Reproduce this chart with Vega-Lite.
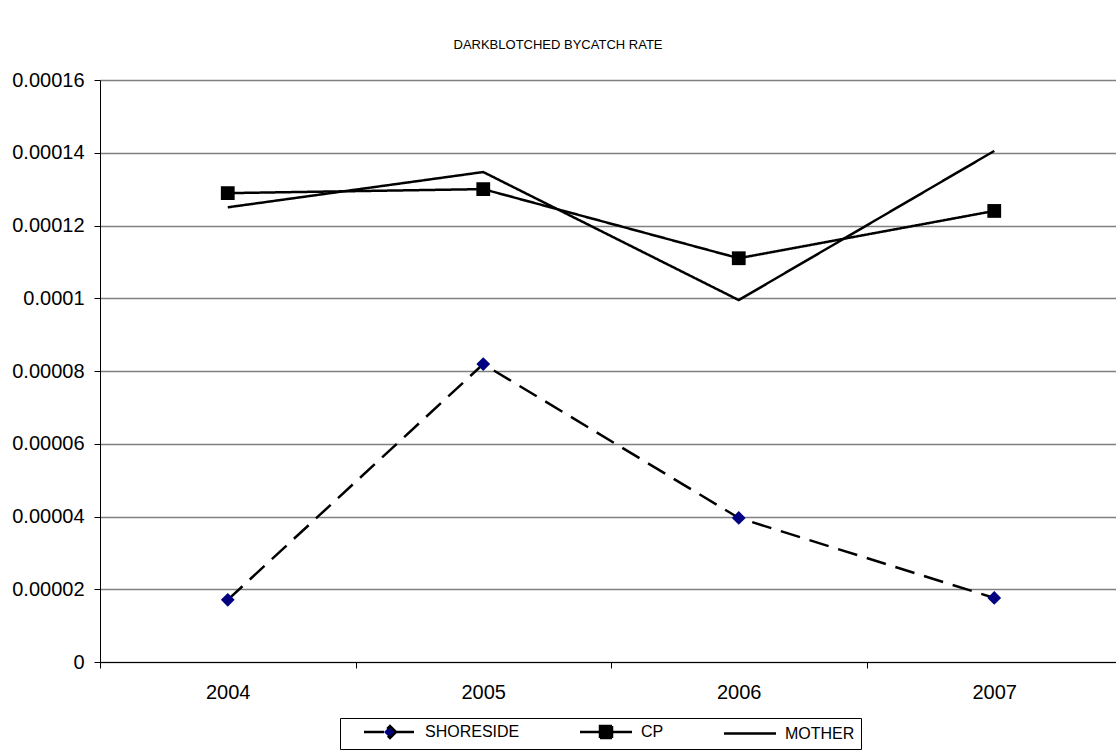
{
  "$schema": "https://vega.github.io/schema/vega-lite/v6.json",
  "autosize": "none",
  "width": 1022,
  "height": 582,
  "padding": {"left": 100, "top": 80, "right": 0, "bottom": 89},
  "background": "white",
  "config": {
    "view": {"stroke": null},
    "font": "Liberation Sans"
  },
  "title": {
    "text": "DARKBLOTCHED BYCATCH RATE",
    "fontSize": 13,
    "fontWeight": "normal",
    "font": "Liberation Sans",
    "color": "black",
    "anchor": "middle",
    "dx": -53,
    "offset": 18
  },
  "data": {
    "values": [
      {"year": "2004", "series": "SHORESIDE", "rate": 0.0000171},
      {"year": "2005", "series": "SHORESIDE", "rate": 0.0000819},
      {"year": "2006", "series": "SHORESIDE", "rate": 0.0000396},
      {"year": "2007", "series": "SHORESIDE", "rate": 0.0000176},
      {"year": "2004", "series": "CP", "rate": 0.0001289},
      {"year": "2005", "series": "CP", "rate": 0.00013},
      {"year": "2006", "series": "CP", "rate": 0.000111},
      {"year": "2007", "series": "CP", "rate": 0.000124},
      {"year": "2004", "series": "MOTHER", "rate": 0.000125},
      {"year": "2005", "series": "MOTHER", "rate": 0.0001347},
      {"year": "2006", "series": "MOTHER", "rate": 0.0000995},
      {"year": "2007", "series": "MOTHER", "rate": 0.0001405}
    ]
  },
  "encoding": {
    "x": {
      "field": "year",
      "type": "ordinal",
      "scale": {"type": "band", "paddingInner": 0, "paddingOuter": 0},
      "axis": {
        "title": null,
        "labelAngle": 0,
        "tickBand": "extent",
        "domainColor": "black",
        "tickColor": "black",
        "tickSize": 6,
        "labelFontSize": 20,
        "labelColor": "black",
        "labelFont": "Liberation Sans",
        "labelPadding": 14,
        "grid": false
      }
    },
    "y": {
      "field": "rate",
      "type": "quantitative",
      "scale": {"domain": [0, 0.00016], "nice": false, "zero": true},
      "axis": {
        "title": null,
        "values": [0, 0.00002, 0.00004, 0.00006, 0.00008, 0.0001, 0.00012, 0.00014, 0.00016],
        "labelExpr": "format(datum.value, '.5~f')",
        "domainColor": "black",
        "tickColor": "black",
        "tickSize": 6,
        "labelFontSize": 20,
        "labelColor": "black",
        "labelFont": "Liberation Sans",
        "labelPadding": 10,
        "grid": true,
        "gridColor": "#808080",
        "gridWidth": 1.5
      }
    }
  },
  "layer": [
    {
      "mark": {"type": "line", "color": "black", "strokeWidth": 2.5},
      "encoding": {
        "strokeDash": {
          "field": "series",
          "type": "nominal",
          "scale": {"domain": ["SHORESIDE", "CP", "MOTHER"], "range": [[20, 10], [1, 0], [1, 0]]},
          "legend": {
            "title": null,
            "orient": "none",
            "legendX": 240,
            "legendY": 638,
            "direction": "horizontal",
            "strokeColor": "black",
            "fillColor": "white",
            "padding": 6,
            "labelFontSize": 16,
            "labelColor": "black",
            "labelFont": "Liberation Sans",
            "symbolSize": 100,
            "symbolStrokeWidth": 2.5,
            "symbolStrokeColor": "black",
            "symbolOffset": 36,
            "columnPadding": 42,
            "labelOffset": 27,
            "encode": {
              "symbols": {
                "update": {
                  "shape": [
                    {"test": "datum.value === 'SHORESIDE'", "value": "M-5.2,0H5.2M0,-1.2L1.2,0L0,1.2L-1.2,0Z"},
                    {"test": "datum.value === 'CP'", "value": "M-5.2,0H5.2M-1.2,-1.2H1.2V1.2H-1.2Z"},
                    {"value": "M-5.2,0H5.2"}
                  ],
                  "fill": [
                    {"test": "datum.value === 'SHORESIDE'", "value": "#000080"},
                    {"value": "black"}
                  ],
                  "stroke": {"value": "black"},
                  "strokeDash": {"value": [1, 0]},
                  "strokeWidth": {"value": 2.5}
                }
              }
            }
          }
        }
      }
    },
    {
      "transform": [{"filter": "datum.series !== 'MOTHER'"}],
      "mark": {"type": "point", "filled": true, "opacity": 1, "size": 190},
      "encoding": {
        "shape": {
          "field": "series",
          "type": "nominal",
          "scale": {"domain": ["SHORESIDE", "CP"], "range": ["diamond", "square"]},
          "legend": null
        },
        "color": {
          "field": "series",
          "type": "nominal",
          "scale": {"domain": ["SHORESIDE", "CP"], "range": ["#000080", "black"]},
          "legend": null
        }
      }
    }
  ]
}
